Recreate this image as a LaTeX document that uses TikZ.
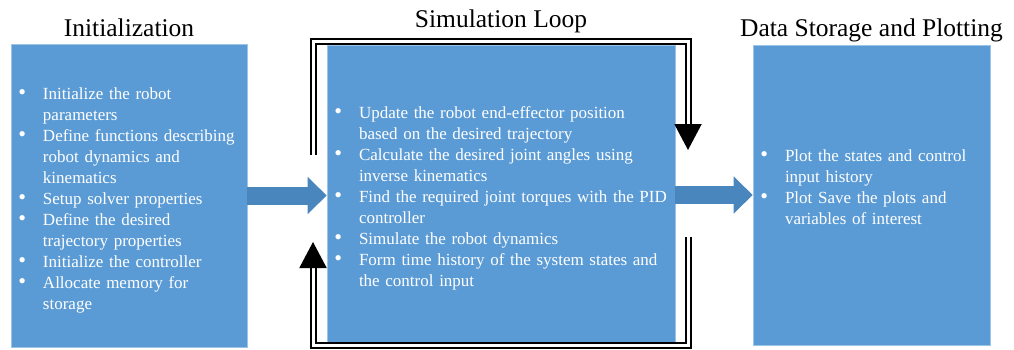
\documentclass[tikz,border=0pt]{standalone}
\usepackage{fontspec}
\setmainfont{Liberation Serif}
\usepackage{enumitem}
\usetikzlibrary{arrows.meta,positioning,calc}
\definecolor{boxblue}{RGB}{91,155,213}
\definecolor{arrowblue}{RGB}{74,134,190}
\newcommand{\bodysize}{\fontsize{17}{21}\selectfont}
\setlist[itemize]{label=\scalebox{1.3}{\textbullet}, leftmargin=24pt, labelsep=17pt, nosep}

\begin{document}
\begin{tikzpicture}[
    x=1pt, y=1pt,
    block/.style={rectangle, draw=boxblue!60!white, line width=0.6pt, fill=boxblue, text=white,
        inner xsep=8pt, inner ysep=0pt, font=\bodysize, align=left},
    title/.style={font=\fontsize{25.5}{29}\selectfont, inner sep=0pt, anchor=base},
    fatarrow/.style={draw=arrowblue, line width=18pt, -{Triangle[width=36pt,length=19pt]}},
    loopline/.style={draw=black, double=white, line width=2pt, double distance=3pt,
        -{Triangle[width=27pt,length=26pt]}}
]
    \useasboundingbox (0,0) rectangle (1014,-349);

    % the three stages
    \node[block, text width=220pt, minimum height=303pt] (init) at (129,-195.5) {
        \begin{itemize}
            \item Initialize the robot\newline parameters
            \item Define functions describing\newline robot dynamics and\newline kinematics
            \item Setup solver properties
            \item Define the desired\newline trajectory properties
            \item Initialize the controller
            \item Allocate memory for\newline storage
        \end{itemize}};
    \node[block, text width=332pt, minimum height=298pt] (sim) at (501,-194) {
        \begin{itemize}
            \item Update the robot end-effector position\newline based on the desired trajectory
            \item Calculate the desired joint angles using\newline inverse kinematics
            \item Find the required joint torques with the PID\newline controller
            \item Simulate the robot dynamics
            \item Form time history of the system states and\newline the control input
        \end{itemize}};
    \node[block, text width=221pt, minimum height=300pt] (data) at (871.5,-195) {
        \begin{itemize}
            \item Plot the states and control\newline input history
            \item Plot Save the plots and\newline variables of interest
        \end{itemize}
        \vspace*{24pt}};

    % titles
    \node[above=7pt of init, title] (inittitle) {Initialization};
    \node[above=17pt of sim, title] (simtitle) {Simulation Loop};
    \node[above=8pt of data, title] (datatitle) {Data Storage and Plotting};

    % flow between stages
    \draw[fatarrow] (init.east) -- (init.east -| sim.west);
    \draw[fatarrow] (data.west -| sim.east) -- (data.west);

    % the loop
    \coordinate (upstart) at (313,-155);
    \coordinate (upend) at (688,-150);
    \coordinate (downstart) at (688,-237);
    \coordinate (downend) at (313,-242);
    \draw[loopline] (upstart) |- ([yshift=3pt]sim.north) -| (upend);
    \draw[loopline] (downstart) |- ([yshift=-2.5pt]sim.south) -| (downend);
\end{tikzpicture}
\end{document}
